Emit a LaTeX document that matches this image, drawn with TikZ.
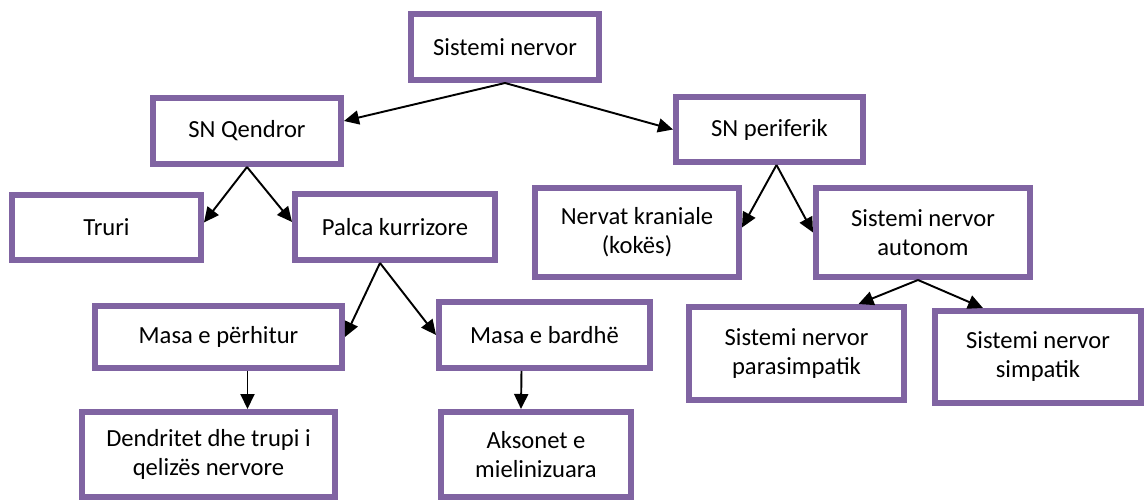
\documentclass[tikz,border=0pt]{standalone}
\usepackage{fontspec}
\setmainfont{Carlito}
\usetikzlibrary{arrows.meta,calc}
\definecolor{boxpurple}{HTML}{8064A2}

\begin{document}
\begin{tikzpicture}[x=0.02cm, y=-0.02cm,
    box/.style={rectangle, draw=boxpurple, line width=0.12cm, fill=white, align=center,
        font=\fontsize{14}{16.5}\selectfont, inner sep=2pt},
    arr/.style={-{Triangle[length=0.3cm,width=0.28cm]}, line width=1.1pt}]
    \useasboundingbox (0,0) rectangle (1144,503);

    \node at (505, 47) [box, minimum width=3.76cm, minimum height=1.32cm] (sys) {Sistemi nervor};
    \node at (247, 131) [box, minimum width=3.76cm, minimum height=1.32cm] (snq) {SN Qendror};
    \node at (769.5, 129.5) [box, minimum width=3.74cm, minimum height=1.30cm] (snp) {SN periferik};

    %qendror
    \node at (106.5, 227.5) [box, minimum width=3.78cm, minimum height=1.30cm] (truri) {Truri};
    \node at (395, 227) [box, minimum width=4.00cm, minimum height=1.32cm] (palca) {Palca kurrizore};
    \node at (218.5, 337) [box, minimum width=4.94cm, minimum height=1.24cm] (masap) {Masa e përhitur};
    \node at (544.5, 335) [box, minimum width=4.22cm, minimum height=1.32cm] (masab) {Masa e bardhë};
    \node at (208.5, 454.5) [box, minimum width=5.06cm, minimum height=1.70cm] (dend) {Dendritet dhe trupi i\\qelizës nervore};
    \node at (536, 454.5) [box, minimum width=3.80cm, minimum height=1.70cm] (akson) {Aksonet e\\mielinizuara};

    %periferik
    \node at (637, 232.5) [box, minimum width=4.08cm, minimum height=1.78cm] (kran) {Nervat kraniale\\(kokës)};
    \node at (923, 232.5) [box, minimum width=4.28cm, minimum height=1.78cm] (auton) {Sistemi nervor\\autonom};
    \node at (796.5, 353.5) [box, minimum width=4.30cm, minimum height=1.86cm] (paras) {Sistemi nervor\\parasimpatik};
    \node at (1038, 357) [box, minimum width=4.12cm, minimum height=1.84cm] (simp) {Sistemi nervor\\simpatik};

    %arrows
    \draw [arr] (sys.south) -- ($(snq.east)+(0,-10)$);
    \draw [arr] (sys.south) -- (snp.west);
    \draw [arr] (snq.south) -- ($(truri.east)+(0,-5)$);
    \draw [arr] (snq.south) -- ($(palca.west)+(0,-5)$);
    \draw [arr] ($(snp.south)+(7,0)$) -- ($(kran.east)+(0,-5)$);
    \draw [arr] ($(snp.south)+(7,0)$) -- (auton.west);
    \draw [arr] ($(palca.south)+(-15,0)$) -- (masap.east);
    \draw [arr] ($(palca.south)+(-15,0)$) -- (masab.west);
    \draw [arr] ($(auton.south)+(-5,0)$) -- ($(paras.north)+(62,0)$);
    \draw [arr] ($(auton.south)+(-5,0)$) -- ($(simp.north)+(-55,0)$);
    \draw [arr] ($(masap.south)+(29,0)$) -- ($(dend.north)+(39,0)$);
    \draw [arr] ($(masab.south)+(-23,0)$) -- ($(akson.north)+(-15,0)$);

\end{tikzpicture}
\end{document}
